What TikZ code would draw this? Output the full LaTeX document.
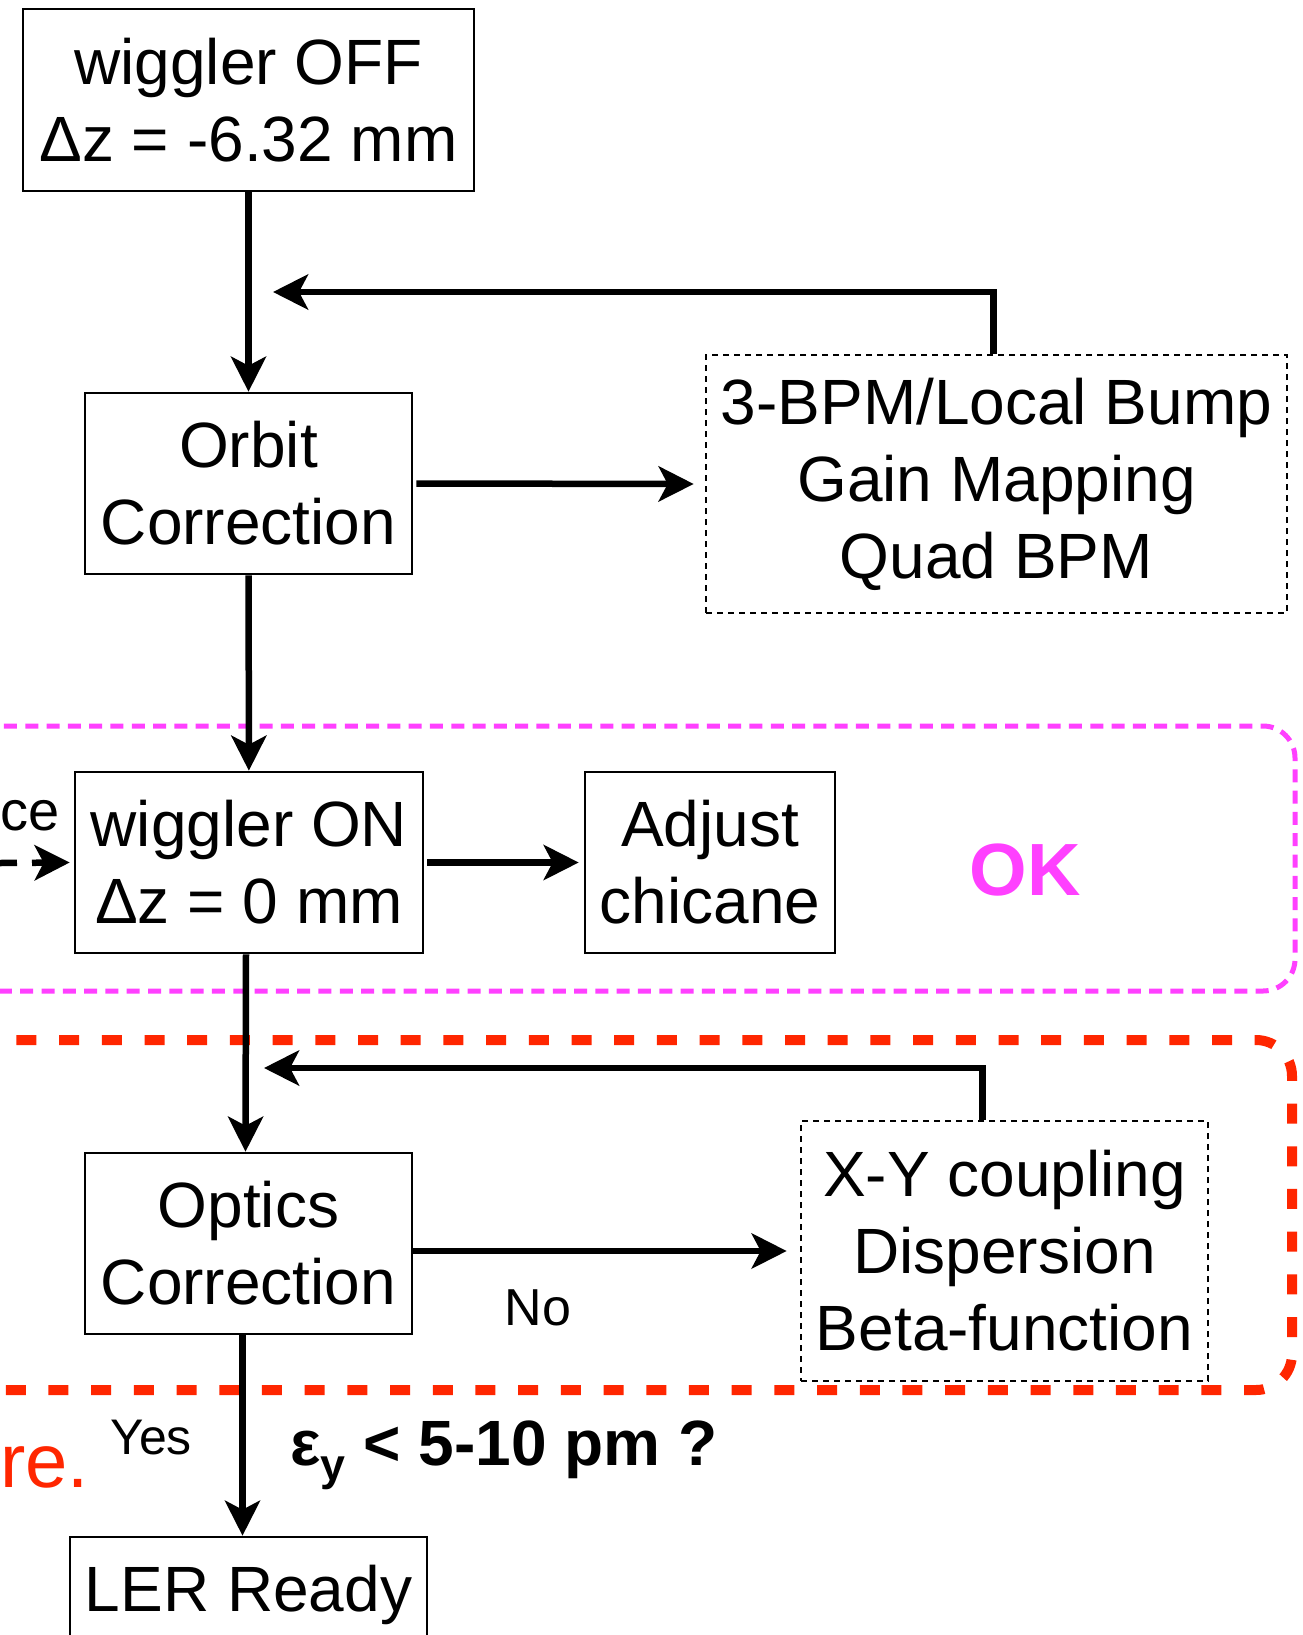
\documentclass[tikz,border=0pt]{standalone}
\usepackage{fontspec}
\setmainfont{Liberation Sans}
\usetikzlibrary{arrows.meta}
\definecolor{okmag}{HTML}{FF40FF}
\definecolor{redline}{HTML}{FF2600}
\newcommand{\boxfont}{\fontsize{64}{77}\selectfont}
\begin{document}
\begin{tikzpicture}[x=1pt,y=-1pt,
  box/.style={draw, line width=2.6pt, align=center, inner sep=0pt, font=\boxfont},
  dotbox/.style={box, dash pattern=on 6pt off 5pt},
  arr/.style={line width=6.5pt, -{Stealth[length=35pt,width=35pt,inset=9pt]}},
  magdash/.style={draw=okmag, line width=5pt, dash pattern=on 13pt off 8.3pt},
  reddash/.style={draw=redline, line width=10pt, dash pattern=on 20pt off 22.7pt},
  lbl/.style={inner sep=0pt, anchor=base}]
\useasboundingbox (0,0) rectangle (1302,1635);
\fill[white] (0,0) rectangle (1302,1635);
\clip (0,0) rectangle (1302,1635);

% grouping regions
\draw[magdash, rounded corners=32pt] (-80,726) rectangle (1295,991);
\draw[reddash, rounded corners=36pt] (-80,1040) rectangle (1292,1390);

% boxes
\node[box, minimum width=451pt, minimum height=182pt] (off) at (248.5,100) {wiggler OFF\\Δz = -6.32 mm};
\node[box, minimum width=327pt, minimum height=181pt] (orbit) at (248.5,483.5) {Orbit\\Correction};
\node[dotbox, minimum width=581pt, minimum height=258pt] (bpm) at (996.5,484) {3-BPM/Local Bump\\Gain Mapping\\Quad BPM};
\node[box, minimum width=348pt, minimum height=181pt] (won) at (249,862.5) {wiggler ON\\Δz = 0 mm};
\node[box, minimum width=250pt, minimum height=181pt] (adjust) at (710,862.5) {Adjust\\chicane};
\node[box, minimum width=327pt, minimum height=181pt] (optics) at (248.5,1243.5) {Optics\\Correction};
\node[dotbox, minimum width=407pt, minimum height=260pt] (xy) at (1004.5,1251) {X-Y coupling\\Dispersion\\Beta-function};
\node[box, minimum width=357pt, minimum height=116pt] (ler) at (248.5,1595) {LER Ready};

% free ends
\coordinate (fb1) at (273,292);
\coordinate (fb2) at (264,1068);
\coordinate (inl) at (0,863);

% connectors
\draw[arr] (off) -- (orbit);
\draw[arr] (orbit) -- (won);
\draw[arr] ([xshift=-3pt]won.south) -- ([xshift=-3pt]optics.north);
\draw[arr] ([xshift=-6pt]optics.south) -- ([xshift=-6pt]ler.north);
\draw[arr] ([xshift=3pt]orbit.east) -- ([xshift=-11pt]bpm.west);
\draw[arr] ([xshift=3pt]won.east) -- ([xshift=-5pt]adjust.west);
\draw[arr] (optics.east |- xy.west) -- ([xshift=-13pt]xy.west);
\draw[arr] ([xshift=-3pt]bpm.north) |- (fb1);
\draw[arr] ([xshift=-22pt]xy.north) |- (fb2);
\draw[arr, dash pattern=on 17pt off 15pt] (inl) -- ([xshift=-4pt]won.west);

% labels
\node[lbl, anchor=base west, font=\fontsize{56}{66}\selectfont] (ce) at (0,830) {ce};
\node[lbl, text=okmag, font=\bfseries\fontsize{74}{80}\selectfont] (ok) at (1025,895) {OK};
\node[lbl, font=\fontsize{52}{60}\selectfont] (no) at (538,1325) {No};
\node[lbl, font=\fontsize{50}{60}\selectfont] (yes) at (151,1454) {Yes};
\node[lbl, anchor=base west, text=redline, font=\fontsize{76}{84}\selectfont] (re) at (0,1487) {re.};
\node[lbl, anchor=base west, font=\bfseries\fontsize{64}{72}\selectfont] (eps) at (290,1465) {ε\textsubscript{y} < 5-10 pm ?};
\end{tikzpicture}
\end{document}
